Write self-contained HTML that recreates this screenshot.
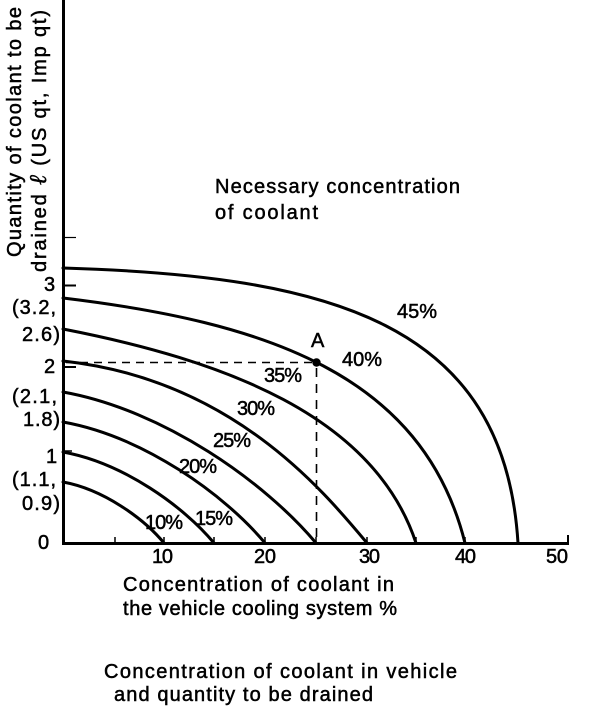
<!DOCTYPE html>
<html>
<head>
<meta charset="utf-8">
<style>
  html,body{margin:0;padding:0;background:#fff;}
  svg{display:block;}
  text{font-family:"Liberation Sans",Arial,sans-serif;fill:#000;stroke:#000;stroke-width:0.5px;}
</style>
</head>
<body>
<svg width="608" height="710" viewBox="0 0 608 710" xmlns="http://www.w3.org/2000/svg">
  <rect x="0" y="0" width="608" height="710" fill="#fff"/>

  <!-- Y axis label (rotated) -->
  <text font-size="20" transform="translate(21,257) rotate(-90)" textLength="250" lengthAdjust="spacing">Quantity of coolant to be</text>
  <text font-size="20" transform="translate(46,272) rotate(-90)" textLength="262" lengthAdjust="spacing">drained <tspan font-family="Liberation Serif, serif" font-style="italic" font-size="24">ℓ</tspan> (US qt, Imp qt)</text>

  <!-- axes -->
  <line x1="63.5" y1="0" x2="63.5" y2="545" stroke="#000" stroke-width="3"/>
  <line x1="62" y1="543.5" x2="569" y2="543.5" stroke="#000" stroke-width="3"/>
  <line x1="568" y1="535" x2="568" y2="543" stroke="#000" stroke-width="2"/>

  <!-- y ticks -->
  <line x1="63" y1="237.5" x2="76" y2="237.5" stroke="#000" stroke-width="1.2"/>
  <line x1="63" y1="285.5" x2="76" y2="285.5" stroke="#000" stroke-width="2"/>
  <line x1="63" y1="367" x2="76" y2="367" stroke="#000" stroke-width="2"/>
  <line x1="63" y1="451" x2="72" y2="451" stroke="#000" stroke-width="1.5"/>

  <!-- x ticks -->
  <g stroke="#000" stroke-width="1.5">
    <line x1="115" y1="537" x2="115" y2="543"/>
    <line x1="164" y1="537" x2="164" y2="543"/>
    <line x1="214" y1="537" x2="214" y2="543"/>
    <line x1="265" y1="537" x2="265" y2="543"/>
    <line x1="316" y1="537" x2="316" y2="543"/>
    <line x1="367" y1="537" x2="367" y2="543"/>
    <line x1="416" y1="537" x2="416" y2="543"/>
    <line x1="465" y1="537" x2="465" y2="543"/>
    <line x1="518" y1="537" x2="518" y2="543"/>
  </g>

  <!-- curves -->
  <g fill="none" stroke="#000" stroke-width="3" stroke-linecap="round">
    <path d="M63,482 C103.4,489.3 143.8,518.6 164,543"/>
    <path d="M63,452 C123.4,462.9 183.8,506.6 214,543"/>
    <path d="M63,422 C143.8,436.5 224.6,494.6 265,543"/>
    <path d="M63,392 C164.2,410.1 265.4,482.6 316,543"/>
    <path d="M63,361 C230.2,379.2 321.4,488.4 367,543"/>
    <path d="M63,329 C222,360 373.6,414.6 416,543"/>
    <path d="M63,298 C263,322 422.5,373 465,543"/>
    <path d="M63,268 C330,276 504.4,322 518,543"/>
  </g>

  <!-- dashed guide lines -->
  <line x1="66" y1="362.5" x2="313" y2="362.5" stroke="#000" stroke-width="1.6" stroke-dasharray="8 6"/>
  <line x1="316.5" y1="368" x2="316.5" y2="541" stroke="#000" stroke-width="1.6" stroke-dasharray="9 7"/>
  <circle cx="316.5" cy="362.5" r="4.2" fill="#000"/>

  <!-- point label -->
  <text font-size="20" x="311" y="347">A</text>

  <!-- curve labels -->
  <g font-size="20">
    <text x="397" y="318" textLength="40" lengthAdjust="spacing">45%</text>
    <text x="342" y="366" textLength="40" lengthAdjust="spacing">40%</text>
    <text x="264" y="382" textLength="38" lengthAdjust="spacing">35%</text>
    <text x="237" y="415" textLength="38" lengthAdjust="spacing">30%</text>
    <text x="213" y="447" textLength="38" lengthAdjust="spacing">25%</text>
    <text x="179" y="473" textLength="38" lengthAdjust="spacing">20%</text>
    <text x="145" y="529" textLength="38" lengthAdjust="spacing">10%</text>
    <text x="195" y="525" textLength="38" lengthAdjust="spacing">15%</text>
  </g>

  <!-- annotation -->
  <text font-size="20" x="215" y="193" textLength="245" lengthAdjust="spacing">Necessary concentration</text>
  <text font-size="20" x="215" y="219" textLength="103" lengthAdjust="spacing">of coolant</text>

  <!-- x tick labels -->
  <g font-size="20">
    <text x="152" y="563" textLength="21" lengthAdjust="spacing">10</text>
    <text x="254" y="563" textLength="22" lengthAdjust="spacing">20</text>
    <text x="359" y="563" textLength="21" lengthAdjust="spacing">30</text>
    <text x="455" y="563" textLength="21" lengthAdjust="spacing">40</text>
    <text x="546" y="563" textLength="22" lengthAdjust="spacing">50</text>
  </g>

  <!-- y tick labels -->
  <g font-size="20">
    <text x="44" y="291">3</text>
    <text x="12" y="314" textLength="44" lengthAdjust="spacing">(3.2,</text>
    <text x="22" y="341" textLength="38" lengthAdjust="spacing">2.6)</text>
    <text x="44" y="373">2</text>
    <text x="12" y="403" textLength="45" lengthAdjust="spacing">(2.1,</text>
    <text x="23" y="426" textLength="37" lengthAdjust="spacing">1.8)</text>
    <text x="46" y="463">1</text>
    <text x="12" y="486" textLength="44" lengthAdjust="spacing">(1.1,</text>
    <text x="22" y="510" textLength="38" lengthAdjust="spacing">0.9)</text>
    <text x="38" y="549">0</text>
  </g>

  <!-- x axis title -->
  <text font-size="20" x="123" y="591" textLength="271" lengthAdjust="spacing">Concentration of coolant in</text>
  <text font-size="20" x="123" y="615" textLength="274" lengthAdjust="spacing">the vehicle cooling system %</text>

  <!-- caption -->
  <text font-size="20" x="104" y="678" textLength="353" lengthAdjust="spacing">Concentration of coolant in vehicle</text>
  <text font-size="20" x="114" y="701" textLength="259" lengthAdjust="spacing">and quantity to be drained</text>
</svg>
</body>
</html>
